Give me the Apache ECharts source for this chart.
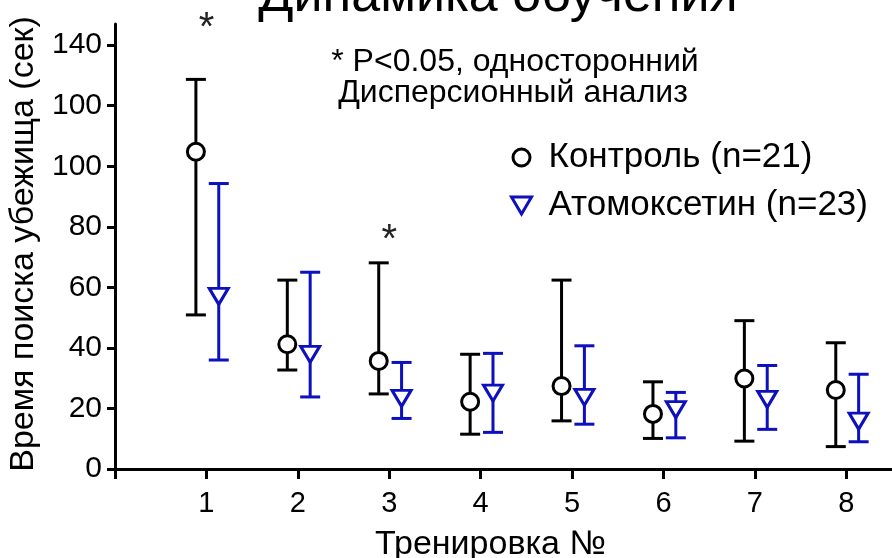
<!DOCTYPE html>
<html><head><meta charset="utf-8">
<script src="https://cdn.jsdelivr.net/npm/echarts@6/dist/echarts.min.js"></script>
<style>html,body{margin:0;padding:0;background:#fff}#c{width:892px;height:558px}</style>
</head><body><div id="c"></div>
<script>
// ---- data ----
const sessions = [1, 2, 3, 4, 5, 6, 7, 8];
const xTickValues = [0, 1, 2, 3, 4, 5, 6, 7, 8];
const xTickLabels = ['1', '2', '3', '4', '5', '6', '7', '8'];
const yTickValues = [0, 20, 40, 60, 80, 100, 120, 140];
const yTickLabels = ['0', '20', '40', '60', '80', '100', '100', '140'];
const controlMean = [104.8, 41.2, 35.7, 22.2, 27.4, 18.2, 29.9, 26.1];
const controlLow  = [50.9, 32.7, 24.8, 11.5, 15.9, 10.1, 9.2, 7.4];
const controlHigh = [128.7, 62.4, 68.1, 37.9, 62.4, 28.8, 49.0, 41.7];
const atoMean = [57.0, 37.9, 23.3, 25.1, 23.7, 19.6, 23.0, 15.8];
const atoLow  = [36.0, 23.8, 16.7, 12.1, 14.8, 10.3, 13.1, 9.0];
const atoHigh = [94.3, 65.0, 35.2, 38.2, 40.7, 25.3, 34.2, 31.3];
const sigSessions = [1, 3];
const sigValues = [145.3, 75.3];
const nameControl = 'Контроль (n=21)';
const nameAto = 'Атомоксетин (n=23)';
const titleText = 'Динамика обучения';
const noteLines = ['* P<0.05, односторонний', 'Дисперсионный анализ'];
const xName = 'Тренировка №';
const yName = 'Время поиска убежища (сек)';

// ---- styling ----
const FONT = "'Liberation Sans', Arial, sans-serif";
const BLUE = '#0d10bd';
const OFF_C = -0.115, OFF_A = 0.135;
const TRI_DOWN = 'path://M0,0L20,0L10,17Z';

function errorSeries(id, low, high, color, off) {
  return {
    type: 'custom', id: id, name: id, silent: true, z: 2, clip: false,
    data: sessions.map((s, i) => [s, low[i], high[i]]),
    encode: { x: 0, y: [1, 2] },
    renderItem: function (params, api) {
      const x = api.value(0) + off;
      const lo = api.coord([x, api.value(1)]);
      const hi = api.coord([x, api.value(2)]);
      const hw = 10;
      const st = { stroke: color, lineWidth: 3, fill: null };
      return { type: 'group', children: [
        { type: 'line', shape: { x1: lo[0], y1: lo[1], x2: hi[0], y2: hi[1] }, style: st },
        { type: 'line', shape: { x1: lo[0] - hw, y1: lo[1], x2: lo[0] + hw, y2: lo[1] }, style: st },
        { type: 'line', shape: { x1: hi[0] - hw, y1: hi[1], x2: hi[0] + hw, y2: hi[1] }, style: st }
      ]};
    }
  };
}

const chart = echarts.init(document.getElementById('c'), null, { renderer: 'canvas' });
chart.setOption({
  animation: false,
  backgroundColor: '#fff',
  textStyle: { fontFamily: FONT },
  grid: { left: 115, right: 0, top: 24, bottom: 89, containLabel: false, outerBoundsMode: 'none' },
  legend: {
    orient: 'vertical', left: 505, top: 135, itemWidth: 44, itemHeight: 17, itemGap: 13,
    textStyle: { fontSize: 35, color: '#000', fontFamily: FONT },
    itemStyle: { borderWidth: 3 },
    data: [{ name: nameControl, icon: 'circle' }, { name: nameAto, icon: TRI_DOWN }]
  },
  graphic: [
    { type: 'text', x: 498, y: -3, silent: true,
      style: { text: titleText, fontSize: 52, fontFamily: FONT, fill: '#000', align: 'center', verticalAlign: 'middle' } },
    { type: 'text', x: 515, y: 62, silent: true,
      style: { text: noteLines[0], fontSize: 32, fontFamily: FONT, fill: '#000', align: 'center', verticalAlign: 'middle' } },
    { type: 'text', x: 513, y: 93, silent: true,
      style: { text: noteLines[1], fontSize: 32, fontFamily: FONT, fill: '#000', align: 'center', verticalAlign: 'middle' } }
  ],
  xAxis: {
    type: 'value', min: 0, max: 8.5,
    name: xName, nameLocation: 'middle', nameGap: 59,
    nameTextStyle: { fontSize: 34, color: '#000', padding: [0, 26, 0, 0] },
    axisLine: { show: true, onZero: false, lineStyle: { color: '#000', width: 3 } },
    axisTick: { show: true, length: 10, lineStyle: { color: '#000', width: 3 }, customValues: xTickValues },
    axisLabel: { fontSize: 29, color: '#000', margin: 20, customValues: sessions,
      formatter: v => xTickLabels[sessions.indexOf(v)] },
    splitLine: { show: false }
  },
  yAxis: {
    type: 'value', min: 0, max: 147,
    name: yName, nameLocation: 'middle', nameGap: 69, nameRotate: 90,
    nameTextStyle: { fontSize: 34, color: '#000', padding: [0, 0, 0, 5] },
    axisLine: { show: true, onZero: false, lineStyle: { color: '#000', width: 3 } },
    axisTick: { show: true, length: 8, lineStyle: { color: '#000', width: 3 }, customValues: yTickValues },
    axisLabel: { fontSize: 30, color: '#000', margin: 13, customValues: yTickValues,
      formatter: v => yTickLabels[yTickValues.indexOf(v)] },
    splitLine: { show: false }
  },
  series: [
    errorSeries('errControl', controlLow, controlHigh, '#000', OFF_C),
    errorSeries('errAto', atoLow, atoHigh, BLUE, OFF_A),
    {
      type: 'scatter', name: nameControl, z: 3,
      data: sessions.map((s, i) => [s + OFF_C, controlMean[i]]),
      symbol: 'circle', symbolSize: 17,
      itemStyle: { color: '#fff', borderColor: '#000', borderWidth: 3, opacity: 1 }
    },
    {
      type: 'scatter', name: nameAto, z: 3,
      data: sessions.map((s, i) => [s + OFF_A, atoMean[i]]),
      symbol: TRI_DOWN, symbolSize: [19, 16],
      itemStyle: { color: '#fff', borderColor: BLUE, borderWidth: 3, opacity: 1 }
    },
    {
      type: 'custom', id: 'sig', name: 'sig', z: 4, silent: true, clip: false,
      data: sigSessions.map((s, i) => [s, sigValues[i]]),
      encode: { x: 0, y: 1 },
      renderItem: function (params, api) {
        const p = api.coord([api.value(0), api.value(1)]);
        return { type: 'text', x: p[0], y: p[1],
          style: { text: '*', fontSize: 40, fontFamily: FONT, fill: '#222', align: 'center', verticalAlign: 'middle' } };
      }
    }
  ]
});
</script></body></html>
